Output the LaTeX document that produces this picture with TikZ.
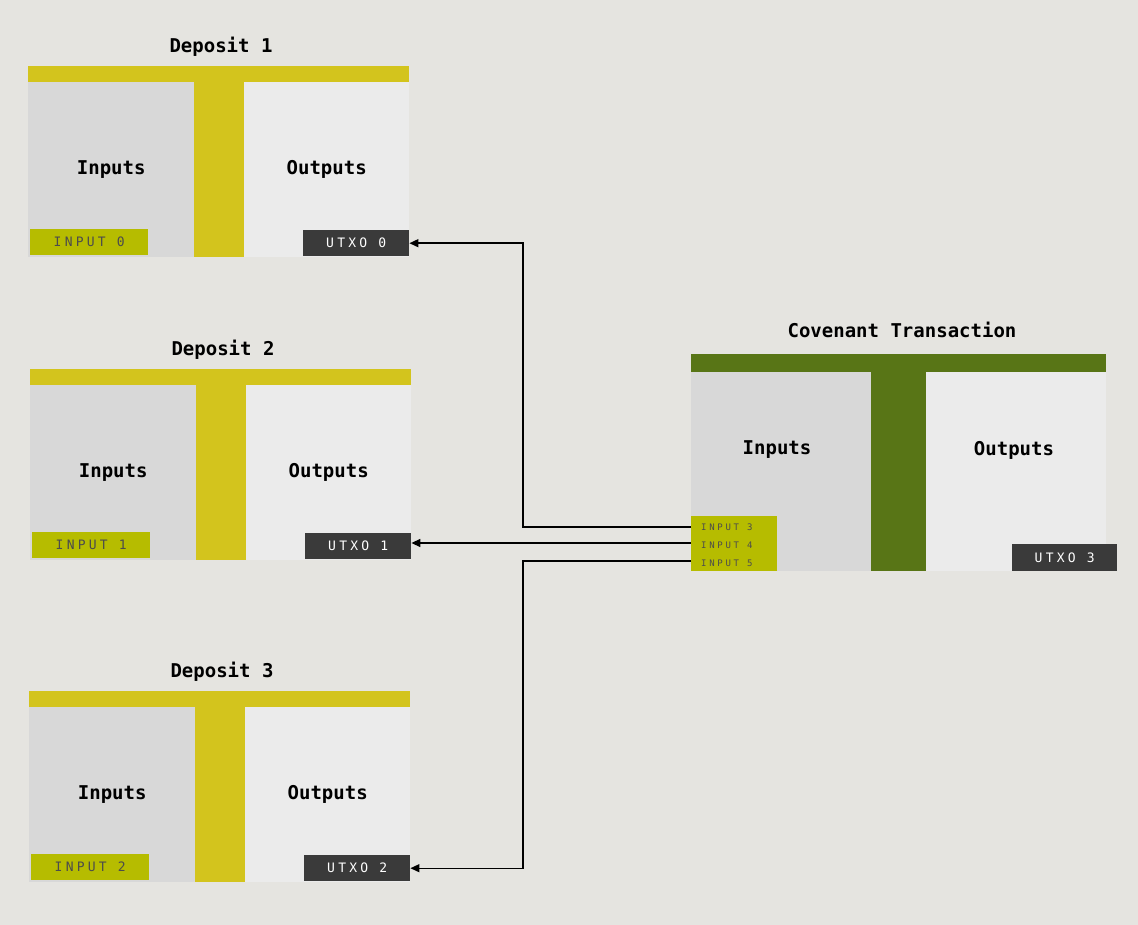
\documentclass[tikz,border=0pt]{standalone}
\usepackage{fontspec}
\setmonofont{DejaVu Sans Mono}
\usetikzlibrary{arrows.meta}
\usetikzlibrary{positioning}
\definecolor{bg}{HTML}{E5E4E0}
\definecolor{inpanel}{HTML}{D8D8D8}
\definecolor{outpanel}{HTML}{EBEBEB}
\definecolor{depbar}{HTML}{D3C41D}
\definecolor{covbar}{HTML}{587516}
\definecolor{inlabel}{HTML}{B6BC00}
\definecolor{utxolabel}{HTML}{3A3A3A}
\tikzset{
  box/.style={draw=none, inner sep=0pt, anchor=north west},
  title/.style={font=\ttfamily\bfseries\fontsize{19}{19}\selectfont},
  panel title/.style={font=\ttfamily\bfseries\fontsize{19}{19}\selectfont},
  in tag/.style={box, fill=inlabel, text=black!70, font=\ttfamily\fontsize{13}{13}\selectfont\addfontfeature{LetterSpace=25}},
  utxo tag/.style={box, fill=utxolabel, text=white, font=\ttfamily\fontsize{13}{13}\selectfont\addfontfeature{LetterSpace=25}},
}
\begin{document}
\begin{tikzpicture}[x=1pt, y=-1pt, >={Triangle[length=9pt,width=8pt]}]
\fill[bg] (0,0) rectangle (1138,925);
\useasboundingbox (0,0) rectangle (1138,925);

% Deposit transactions
\foreach \n/\x/\y [count=\i from 0] in {1/28/66, 2/30/369, 3/29/691} {
  \node [title] (deposit-\n) at (\x+193,\y-19) {Deposit \n};
  \fill [depbar] (\x,\y) rectangle ++(381,191);
  \node [box, fill=inpanel, minimum width=166pt, minimum height=175pt] (inputs-\n) at (\x,\y+16) {};
  \node [box, fill=outpanel, minimum width=165pt, minimum height=175pt] (outputs-\n) at (\x+216,\y+16) {};
  \node [panel title] at (inputs-\n.center) {Inputs};
  \node [panel title] at (outputs-\n.center) {Outputs};
  \node [in tag, minimum width=118pt, minimum height=26pt] (input-\i) at (\x+2,\y+163) {INPUT \i};
  \node [utxo tag, minimum width=106pt, minimum height=26pt] (utxo-\i) at (\x+275,\y+164) {UTXO \i};
}

% Covenant transaction
\node [title] (covenant) at (902,330) {Covenant Transaction};
\fill [covbar] (691,354) rectangle (1106,571);
\node [box, fill=inpanel, minimum width=180pt, minimum height=199pt] (cov-inputs) at (691,372) {};
\node [box, fill=outpanel, minimum width=180pt, minimum height=199pt] (cov-outputs) at (926,372) {};
\node [panel title] at (777,450) {Inputs};
\node [panel title] at (1014,450) {Outputs};
\fill [inlabel] (691,516) rectangle (777,571);
\foreach \k/\y in {3/527, 4/545, 5/563}
  \node [font=\ttfamily\fontsize{9}{9}\selectfont\addfontfeature{LetterSpace=30}, text=black!70, inner sep=0pt, anchor=west] (input-\k) at (701,\y) {INPUT \k};
\node [utxo tag, minimum width=105pt, minimum height=27pt] (utxo-3) at (1012,544) {UTXO 3};

% Spending connections
\coordinate (in3) at (691,527);
\coordinate (in4) at (691,543);
\coordinate (in5) at (691,561);
\draw [->, line width=1.4pt] (in3) -- (523,527) |- (utxo-0.east);
\draw [->, line width=1.4pt] (in4) -- (utxo-1.east |- in4);
\draw [->, line width=1.4pt] (in5) -- (523,561) |- (utxo-2.east);

\end{tikzpicture}
\end{document}
